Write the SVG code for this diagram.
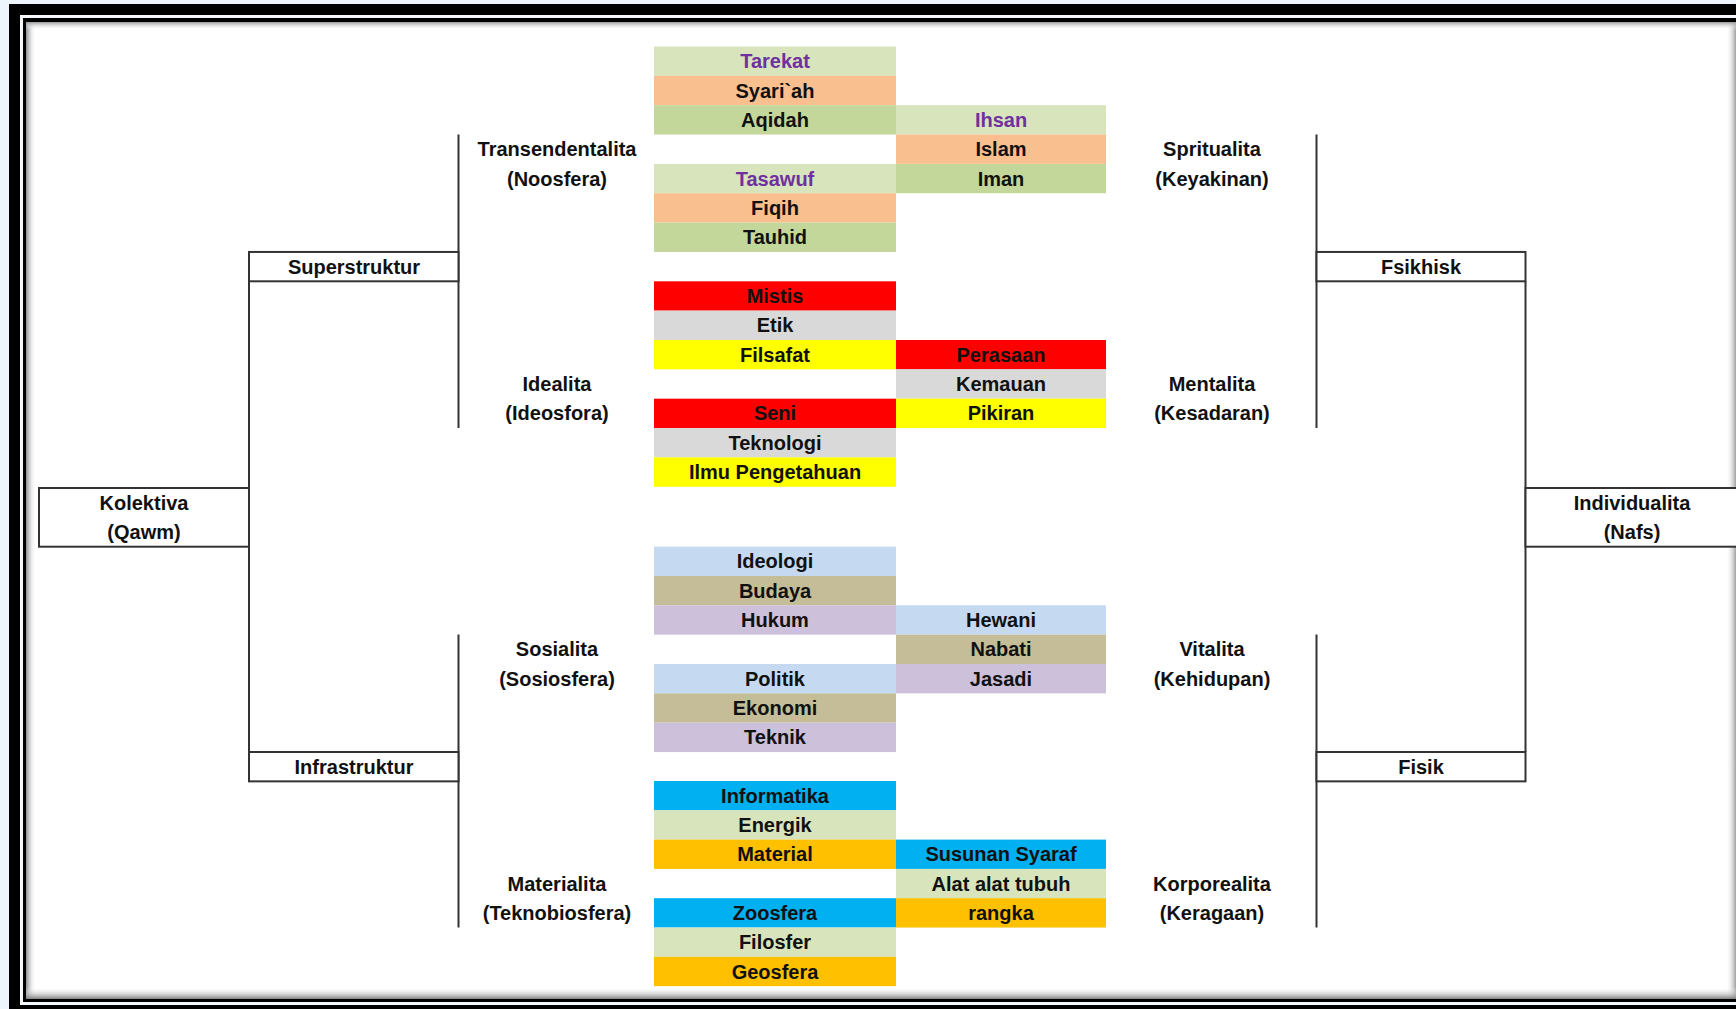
<svg xmlns="http://www.w3.org/2000/svg" width="1736" height="1009" viewBox="0 0 1736 1009">
<defs>
<linearGradient id="shL" x1="0" y1="0" x2="1" y2="0"><stop offset="0" stop-color="#8c8c8c"/><stop offset="1" stop-color="#fff" stop-opacity="0"/></linearGradient>
<linearGradient id="shR" x1="1" y1="0" x2="0" y2="0"><stop offset="0" stop-color="#a0a0a0"/><stop offset="1" stop-color="#fff" stop-opacity="0"/></linearGradient>
<linearGradient id="shT" x1="0" y1="0" x2="0" y2="1"><stop offset="0" stop-color="#9a9a9a"/><stop offset="1" stop-color="#fff" stop-opacity="0"/></linearGradient>
<linearGradient id="shB" x1="0" y1="1" x2="0" y2="0"><stop offset="0" stop-color="#808080"/><stop offset="1" stop-color="#fff" stop-opacity="0"/></linearGradient>
</defs>
<style>
text{font-family:"Liberation Sans",Arial,sans-serif;font-weight:bold;font-size:20px;fill:#111;text-anchor:middle}
.p{fill:#7030A0}
.box{fill:#fff;stroke:#333;stroke-width:2}
.ln{stroke:#333;stroke-width:2;fill:none}
.g1{fill:#D8E4BC}.o{fill:#FABF8F}.g2{fill:#C4D79B}
.r{fill:#FF0000}.gy{fill:#D9D9D9}.y{fill:#FFFF00}
.b{fill:#C5D9F1}.t{fill:#C4BD97}.v{fill:#CCC0DA}
.c{fill:#00B0F0}.a{fill:#FFC000}
</style>
<rect x="0" y="0" width="1736" height="1009" fill="#eef4fc"/>
<rect x="9" y="4" width="1800" height="1100" fill="#000"/>
<rect x="20" y="15" width="1800" height="990" fill="#f4f8fd"/>
<rect x="23" y="18" width="1800" height="984" fill="#000"/>
<rect x="26" y="22" width="1800" height="977" fill="#fff"/>
<rect x="26" y="22" width="10" height="977" fill="url(#shL)"/>
<rect x="1726" y="22" width="10" height="977" fill="url(#shR)"/>
<rect x="26" y="22" width="1710" height="8" fill="url(#shT)"/>
<rect x="26" y="987" width="1710" height="12" fill="url(#shB)"/>

<g id="connectors">
<line class="ln" x1="249" y1="281.3" x2="249" y2="752"/>
<line class="ln" x1="458.5" y1="134.5" x2="458.5" y2="428"/>
<line class="ln" x1="458.5" y1="634.5" x2="458.5" y2="927.5"/>
<line class="ln" x1="1525.5" y1="281.3" x2="1525.5" y2="752"/>
<line class="ln" x1="1316.5" y1="134.5" x2="1316.5" y2="428"/>
<line class="ln" x1="1316.5" y1="634.5" x2="1316.5" y2="927.5"/>
</g>

<g id="kolektiva"><rect class="box" x="39" y="488" width="210" height="58.7"/><text x="144" y="509.6">Kolektiva</text><text x="144" y="539">(Qawm)</text></g>
<g id="superstruktur"><rect class="box" x="249" y="251.95" width="209.5" height="29.35"/><text x="354" y="273.6">Superstruktur</text></g>
<g id="infrastruktur"><rect class="box" x="249" y="752" width="209.5" height="29.35"/><text x="354" y="773.7">Infrastruktur</text></g>
<g id="individualita"><rect class="box" x="1525.5" y="488" width="220" height="58.7"/><text x="1632" y="509.6">Individualita</text><text x="1632" y="539">(Nafs)</text></g>
<g id="fsikhisk"><rect class="box" x="1316.5" y="251.95" width="209" height="29.35"/><text x="1421" y="273.6">Fsikhisk</text></g>
<g id="fisik"><rect class="box" x="1316.5" y="752" width="209" height="29.35"/><text x="1421" y="773.7">Fisik</text></g>

<g id="transendentalita"><text x="557" y="156.2">Transendentalita</text><text x="557" y="185.6">(Noosfera)</text></g>
<g id="idealita"><text x="557" y="391">Idealita</text><text x="557" y="420.4">(Ideosfora)</text></g>
<g id="sosialita"><text x="557" y="656.2">Sosialita</text><text x="557" y="685.5">(Sosiosfera)</text></g>
<g id="materialita"><text x="557" y="890.5">Materialita</text><text x="557" y="919.8">(Teknobiosfera)</text></g>
<g id="spritualita"><text x="1212" y="156.2">Spritualita</text><text x="1212" y="185.6">(Keyakinan)</text></g>
<g id="mentalita"><text x="1212" y="391">Mentalita</text><text x="1212" y="420.4">(Kesadaran)</text></g>
<g id="vitalita"><text x="1212" y="656.2">Vitalita</text><text x="1212" y="685.5">(Kehidupan)</text></g>
<g id="korporealita"><text x="1212" y="890.5">Korporealita</text><text x="1212" y="919.8">(Keragaan)</text></g>

<g id="cells-noosfera">
<g id="tarekat"><rect class="g1" x="654" y="46.5" width="242" height="29.35"/><text class="p" x="775" y="68.2">Tarekat</text></g>
<g id="syariah"><rect class="o" x="654" y="75.85" width="242" height="29.35"/><text x="775" y="97.5">Syari`ah</text></g>
<g id="aqidah"><rect class="g2" x="654" y="105.2" width="242" height="29.35"/><text x="775" y="126.9">Aqidah</text></g>
<g id="tasawuf"><rect class="g1" x="654" y="163.9" width="242" height="29.35"/><text class="p" x="775" y="185.6">Tasawuf</text></g>
<g id="fiqih"><rect class="o" x="654" y="193.25" width="242" height="29.35"/><text x="775" y="214.9">Fiqih</text></g>
<g id="tauhid"><rect class="g2" x="654" y="222.6" width="242" height="29.35"/><text x="775" y="244.3">Tauhid</text></g>
<g id="ihsan"><rect class="g1" x="896" y="105.2" width="210" height="29.35"/><text class="p" x="1001" y="126.9">Ihsan</text></g>
<g id="islam"><rect class="o" x="896" y="134.55" width="210" height="29.35"/><text x="1001" y="156.2">Islam</text></g>
<g id="iman"><rect class="g2" x="896" y="163.9" width="210" height="29.35"/><text x="1001" y="185.6">Iman</text></g>
</g>

<g id="cells-ideosfora">
<g id="mistis"><rect class="r" x="654" y="281.3" width="242" height="29.35"/><text x="775" y="303">Mistis</text></g>
<g id="etik"><rect class="gy" x="654" y="310.65" width="242" height="29.35"/><text x="775" y="332.3">Etik</text></g>
<g id="filsafat"><rect class="y" x="654" y="340" width="242" height="29.35"/><text x="775" y="361.7">Filsafat</text></g>
<g id="seni"><rect class="r" x="654" y="398.7" width="242" height="29.35"/><text x="775" y="420.4">Seni</text></g>
<g id="teknologi"><rect class="gy" x="654" y="428.05" width="242" height="29.35"/><text x="775" y="449.7">Teknologi</text></g>
<g id="ilmu"><rect class="y" x="654" y="457.4" width="242" height="29.35"/><text x="775" y="479.1">Ilmu Pengetahuan</text></g>
<g id="perasaan"><rect class="r" x="896" y="340" width="210" height="29.35"/><text x="1001" y="361.7">Perasaan</text></g>
<g id="kemauan"><rect class="gy" x="896" y="369.35" width="210" height="29.35"/><text x="1001" y="391">Kemauan</text></g>
<g id="pikiran"><rect class="y" x="896" y="398.7" width="210" height="29.35"/><text x="1001" y="420.4">Pikiran</text></g>
</g>

<g id="cells-sosiosfera">
<g id="ideologi"><rect class="b" x="654" y="546.6" width="242" height="29.35"/><text x="775" y="568.3">Ideologi</text></g>
<g id="budaya"><rect class="t" x="654" y="575.95" width="242" height="29.35"/><text x="775" y="597.6">Budaya</text></g>
<g id="hukum"><rect class="v" x="654" y="605.3" width="242" height="29.35"/><text x="775" y="627">Hukum</text></g>
<g id="politik"><rect class="b" x="654" y="664" width="242" height="29.35"/><text x="775" y="685.7">Politik</text></g>
<g id="ekonomi"><rect class="t" x="654" y="693.35" width="242" height="29.35"/><text x="775" y="715">Ekonomi</text></g>
<g id="teknik"><rect class="v" x="654" y="722.7" width="242" height="29.35"/><text x="775" y="744.4">Teknik</text></g>
<g id="hewani"><rect class="b" x="896" y="605.3" width="210" height="29.35"/><text x="1001" y="627">Hewani</text></g>
<g id="nabati"><rect class="t" x="896" y="634.65" width="210" height="29.35"/><text x="1001" y="656.3">Nabati</text></g>
<g id="jasadi"><rect class="v" x="896" y="664" width="210" height="29.35"/><text x="1001" y="685.7">Jasadi</text></g>
</g>

<g id="cells-teknobiosfera">
<g id="informatika"><rect class="c" x="654" y="781" width="242" height="29.35"/><text x="775" y="802.7">Informatika</text></g>
<g id="energik"><rect class="g1" x="654" y="810.3" width="242" height="29.35"/><text x="775" y="832">Energik</text></g>
<g id="material"><rect class="a" x="654" y="839.6" width="242" height="29.35"/><text x="775" y="861.3">Material</text></g>
<g id="zoosfera"><rect class="c" x="654" y="898.2" width="242" height="29.35"/><text x="775" y="919.9">Zoosfera</text></g>
<g id="filosfer"><rect class="g1" x="654" y="927.5" width="242" height="29.35"/><text x="775" y="949.2">Filosfer</text></g>
<g id="geosfera"><rect class="a" x="654" y="956.8" width="242" height="29.35"/><text x="775" y="978.5">Geosfera</text></g>
<g id="susunan"><rect class="c" x="896" y="839.6" width="210" height="29.35"/><text x="1001" y="861.3">Susunan Syaraf</text></g>
<g id="alat"><rect class="g1" x="896" y="868.9" width="210" height="29.35"/><text x="1001" y="890.6">Alat alat tubuh</text></g>
<g id="rangka"><rect class="a" x="896" y="898.2" width="210" height="29.35"/><text x="1001" y="919.9">rangka</text></g>
</g>
</svg>
